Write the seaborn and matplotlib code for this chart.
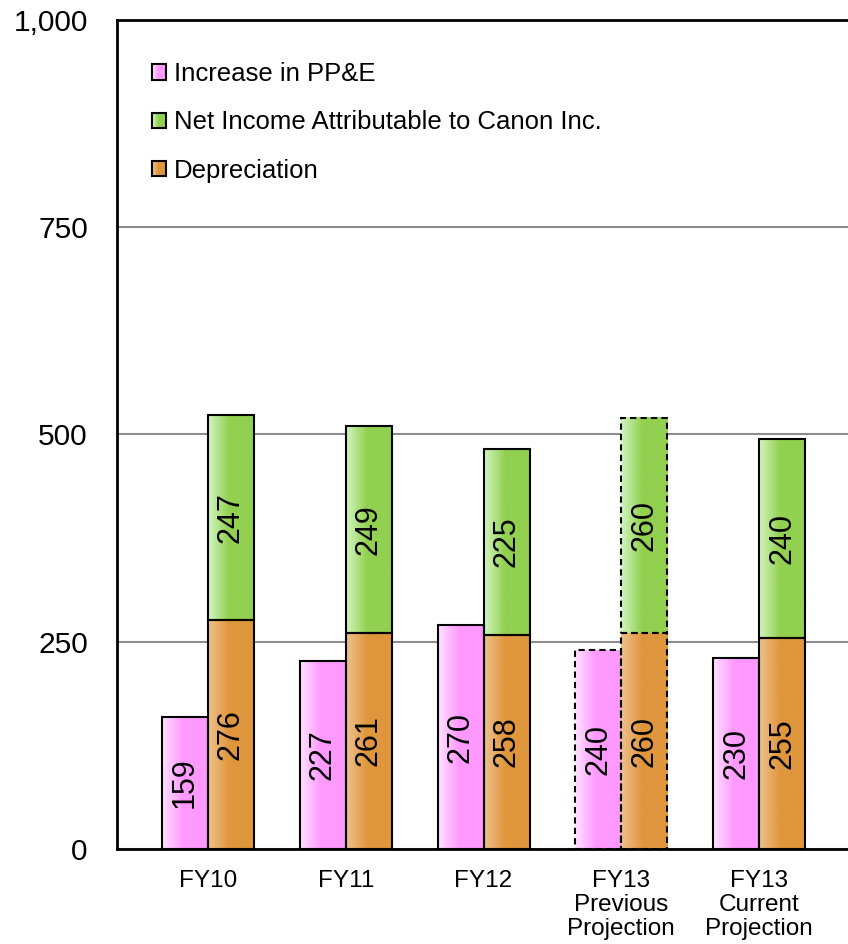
import numpy as np
import matplotlib
matplotlib.use("Agg")
import matplotlib.pyplot as plt
import seaborn as sns
from matplotlib.patches import Patch, Rectangle
from matplotlib.legend_handler import HandlerBase
from matplotlib.colors import to_rgb
from matplotlib.ticker import StrMethodFormatter

# ---- data (100 million yen) ----
categories = ["FY10", "FY11", "FY12", "FY13\nPrevious\nProjection", "FY13\nCurrent\nProjection"]
ppe_increase = [159, 227, 270, 240, 230]
depreciation = [276, 261, 258, 260, 255]
net_income = [247, 249, 225, 260, 240]
series_names = ["Increase in PP&E", "Net Income Attributable to Canon Inc.", "Depreciation"]
yticks = [0, 250, 500, 750, 1000]
projection_index = 3  # previous projection drawn with dashed outline

# gradient fills (left light -> right saturated)
PINK = ("#FFE2FF", "#FF99FF")
GREEN = ("#D2F6C2", "#92D050")
ORANGE = ("#EEC28F", "#E0963C")

sns.set_style("white")
plt.rcParams["font.family"] = ["Liberation Sans", "DejaVu Sans"]
plt.rcParams["text.color"] = "black"
plt.rcParams["xtick.color"] = "black"
plt.rcParams["ytick.color"] = "black"

fig = plt.figure(figsize=(8.48, 9.44), dpi=100)
ax = fig.add_axes([117 / 848, 95 / 944, 731 / 848, 829 / 944])

idx = np.arange(len(categories))
bw = 0.334

n0 = len(ax.patches)
sns.barplot(x=idx - bw / 2, y=ppe_increase, native_scale=True, width=bw,
            orient="x", color=PINK[1], ax=ax)
pink_bars = ax.patches[n0:]
n1 = len(ax.patches)
sns.barplot(x=idx + bw / 2, y=depreciation, native_scale=True, width=bw,
            orient="x", color=ORANGE[1], ax=ax)
orange_bars = ax.patches[n1:]
n2 = len(ax.patches)
sns.barplot(x=idx + bw / 2, y=net_income, native_scale=True, width=bw,
            orient="x", color=GREEN[1], bottom=np.array(depreciation), ax=ax)
green_bars = ax.patches[n2:]


def gradient_row(left, right, n=200, ramp=0.45):
    l, r = np.array(to_rgb(left)), np.array(to_rgb(right))
    t = np.clip(np.linspace(0, 1, n) / ramp, 0, 1)[:, None]
    return (l * (1 - t) + r * t)[None, :, :]


for bars, cols in ((pink_bars, PINK), (orange_bars, ORANGE), (green_bars, GREEN)):
    img = gradient_row(*cols)
    for i, p in enumerate(bars):
        x0, y0, w, h = p.get_x(), p.get_y(), p.get_width(), p.get_height()
        ax.imshow(img, extent=[x0, x0 + w, y0, y0 + h], aspect="auto",
                  interpolation="bilinear", zorder=1.8)
        p.set_facecolor("none")
        p.set_edgecolor("black")
        p.set_linewidth(1.5)
        p.set_zorder(2.2)
        if i == projection_index:
            p.set_linestyle((0, (3, 2)))

# value labels inside each segment
for cont in ax.containers:
    ax.bar_label(cont, label_type="center", rotation=90, fontsize=22, color="black")

ax.set_xlim(-0.66, 4.645)
ax.set_ylim(0, 1000)
ax.set_yticks(yticks)
ax.yaxis.set_major_formatter(StrMethodFormatter("{x:,.0f}"))
ax.set_xticks(idx, categories)
for t in ax.get_xticklabels():
    t.set_linespacing(1.12)
ax.tick_params(axis="y", length=0, pad=21, labelsize=21.5, labelcolor="black")
ax.tick_params(axis="x", length=0, pad=15, labelsize=17.5, labelcolor="black")
ax.set_xlabel("")
ax.set_ylabel("")

ax.yaxis.grid(True, color="#8C8C8C", linewidth=1.5)
ax.xaxis.grid(False)
ax.set_axisbelow(True)
for side in ("top", "left", "bottom"):
    ax.spines[side].set_visible(True)
    ax.spines[side].set_color("black")
    ax.spines[side].set_linewidth(2)
    ax.spines[side].set_zorder(3)
ax.spines["right"].set_visible(False)


class GradientSwatch(HandlerBase):
    def __init__(self, left, right, **kw):
        super().__init__(**kw)
        self.left, self.right = left, right

    def create_artists(self, legend, orig_handle, xdescent, ydescent,
                       width, height, fontsize, trans):
        cols = gradient_row(self.left, self.right, n=14)[0]
        n = len(cols)
        arts = []
        for i, c in enumerate(cols):
            arts.append(Rectangle((-xdescent + width * i / n, -ydescent),
                                  width / n * 1.05, height, facecolor=c,
                                  edgecolor="none", transform=trans))
        arts.append(Rectangle((-xdescent, -ydescent), width, height,
                              facecolor="none", edgecolor="black",
                              linewidth=1.5, transform=trans))
        return arts


handles = [Patch(label=series_names[0]), Patch(label=series_names[1]), Patch(label=series_names[2])]
hmap = {handles[0]: GradientSwatch(*PINK), handles[1]: GradientSwatch(*GREEN),
        handles[2]: GradientSwatch(*ORANGE)}
ax.legend(handles=handles, handler_map=hmap, loc="upper left",
          bbox_to_anchor=(35 / 731, (849 - 62) / 829), frameon=False,
          fontsize=18.5, handlelength=0.55, handleheight=0.55,
          handletextpad=0.3, labelspacing=0.95, borderpad=0, borderaxespad=0,
          labelcolor="black")

fig.savefig("out.png", dpi=100)
